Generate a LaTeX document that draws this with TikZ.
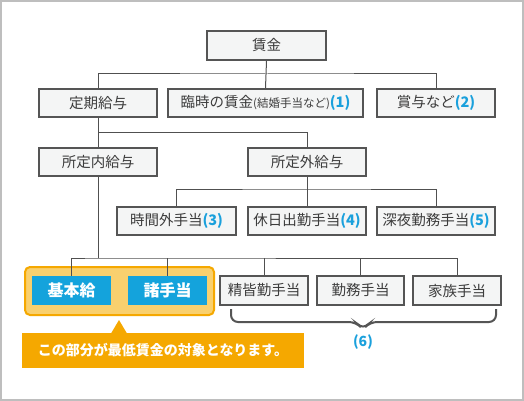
\documentclass[tikz,border=0pt]{standalone}
\usepackage{fontspec}
\setmainfont{Noto Sans CJK JP}
\usetikzlibrary{positioning, calc}
\definecolor{frameline}{RGB}{190, 190, 190}
\definecolor{boxline}{RGB}{85, 85, 85}
\definecolor{boxfill}{RGB}{244, 245, 245}
\definecolor{linkline}{RGB}{80, 80, 80}
\definecolor{darktext}{RGB}{60, 60, 60}
\definecolor{numblue}{RGB}{26, 160, 220}
\definecolor{keyblue}{RGB}{20, 163, 220}
\definecolor{deeporange}{RGB}{245, 168, 0}
\definecolor{softorange}{RGB}{249, 208, 110}

\tikzset{
    paybox/.style={draw=boxline, fill=boxfill, line width=2pt, minimum height=28pt, inner sep=0pt, text=darktext, font=\fontsize{14.5}{15}\selectfont},
    keybox/.style={fill=keyblue, minimum width=79pt, minimum height=29pt, inner sep=0pt, text=white, font=\fontsize{16}{17}\selectfont\bfseries},
    link/.style={draw=linkline, line width=1pt},
}
\newcommand{\num}[1]{\textcolor{numblue}{\bfseries(#1)}}

\begin{document}
\begin{tikzpicture}[x=1pt, y=-1pt]
    % outer frame
    \draw[frameline, line width=2pt, fill=white] (1,1) rectangle (523,400);

    % top levels
    \node[paybox, minimum width=119pt, minimum height=29pt] (chingin) at (266.5,45.5) {賃金};
    \node[paybox, minimum width=118pt] (teiki) at (98,103) {定期給与};
    \node[paybox, minimum width=195pt] (rinji) at (265.5,103) {臨時の賃金{\fontsize{11.5}{12}\selectfont (結婚手当など)}\num{1}};
    \node[paybox, minimum width=118pt] (shoyo) at (436,103) {賞与など\num{2}};

    \node[paybox, minimum width=118pt] (naikyu) at (98,162) {所定内給与};
    \node[paybox, minimum width=118pt] (gaikyu) at (307,162) {所定外給与};

    \node[paybox, minimum width=119pt] (jikangai) at (176.5,221) {時間外手当\num{3}};
    \node[paybox, minimum width=118pt] (kyujitsu) at (307,221) {休日出勤手当\num{4}};
    \node[paybox, minimum width=118pt] (shinya) at (436,221) {深夜勤務手当\num{5}};

    % bottom row
    \draw[draw=deeporange, fill=softorange, line width=2pt, rounded corners=5pt] (25,267) rectangle (214,315);
    \node[keybox] (kihon) at (71.5,290.5) {基本給};
    \node[keybox] (shote) at (167.5,290.5) {諸手当};
    \node[paybox, minimum width=88pt, minimum height=29pt] (seikaikin) at (264,290.5) {精皆勤手当};
    \node[paybox, minimum width=87pt, minimum height=29pt] (kinmu) at (360.5,290.5) {勤務手当};
    \node[paybox, minimum width=88pt, minimum height=29pt] (kazoku) at (457,290.5) {家族手当};

    % connectors
    \coordinate (j1) at (266.5,74);
    \coordinate (j2) at (98,132);
    \coordinate (j3) at (307,189);
    \coordinate (j4) at (98,258);
    \draw[link] (chingin.south) -- (rinji.north);
    \draw[link] (teiki.north) |- (j1) -| (shoyo.north);
    \draw[link] (teiki.south) -- (naikyu.north);
    \draw[link] (j2) -| (gaikyu.north);
    \draw[link] (gaikyu.south) -- (kyujitsu.north);
    \draw[link] (jikangai.north) |- (j3) -| (shinya.north);
    \draw[link] (naikyu.south) -- (j4);
    \draw[link] (kihon.north) |- (j4) -| (kazoku.north);
    \draw[link] (shote.north) -- (shote.north |- j4);
    \draw[link] (seikaikin.north) -- (seikaikin.north |- j4);
    \draw[link] (kinmu.north) -- (kinmu.north |- j4);

    % brace under the allowances
    \draw[boxline, line width=2pt, rounded corners=7pt] (231,309) -- (231,322) -- (356,322) -- (363,329.5) -- (370,322) -- (496,322) -- (496,309);
    \node[text=numblue, font=\fontsize{14}{15}\selectfont\bfseries] (six) at (363,342) {(6)};

    % callout
    \fill[deeporange] (111,333.5) -- (119,320) -- (127,333.5) -- cycle;
    \node[fill=deeporange, minimum width=282pt, minimum height=35pt, inner sep=0pt, text=white, font=\fontsize{14}{15}\selectfont\bfseries] (note) at (163,350.5) {この部分が最低賃金の対象となります。};
\end{tikzpicture}
\end{document}
